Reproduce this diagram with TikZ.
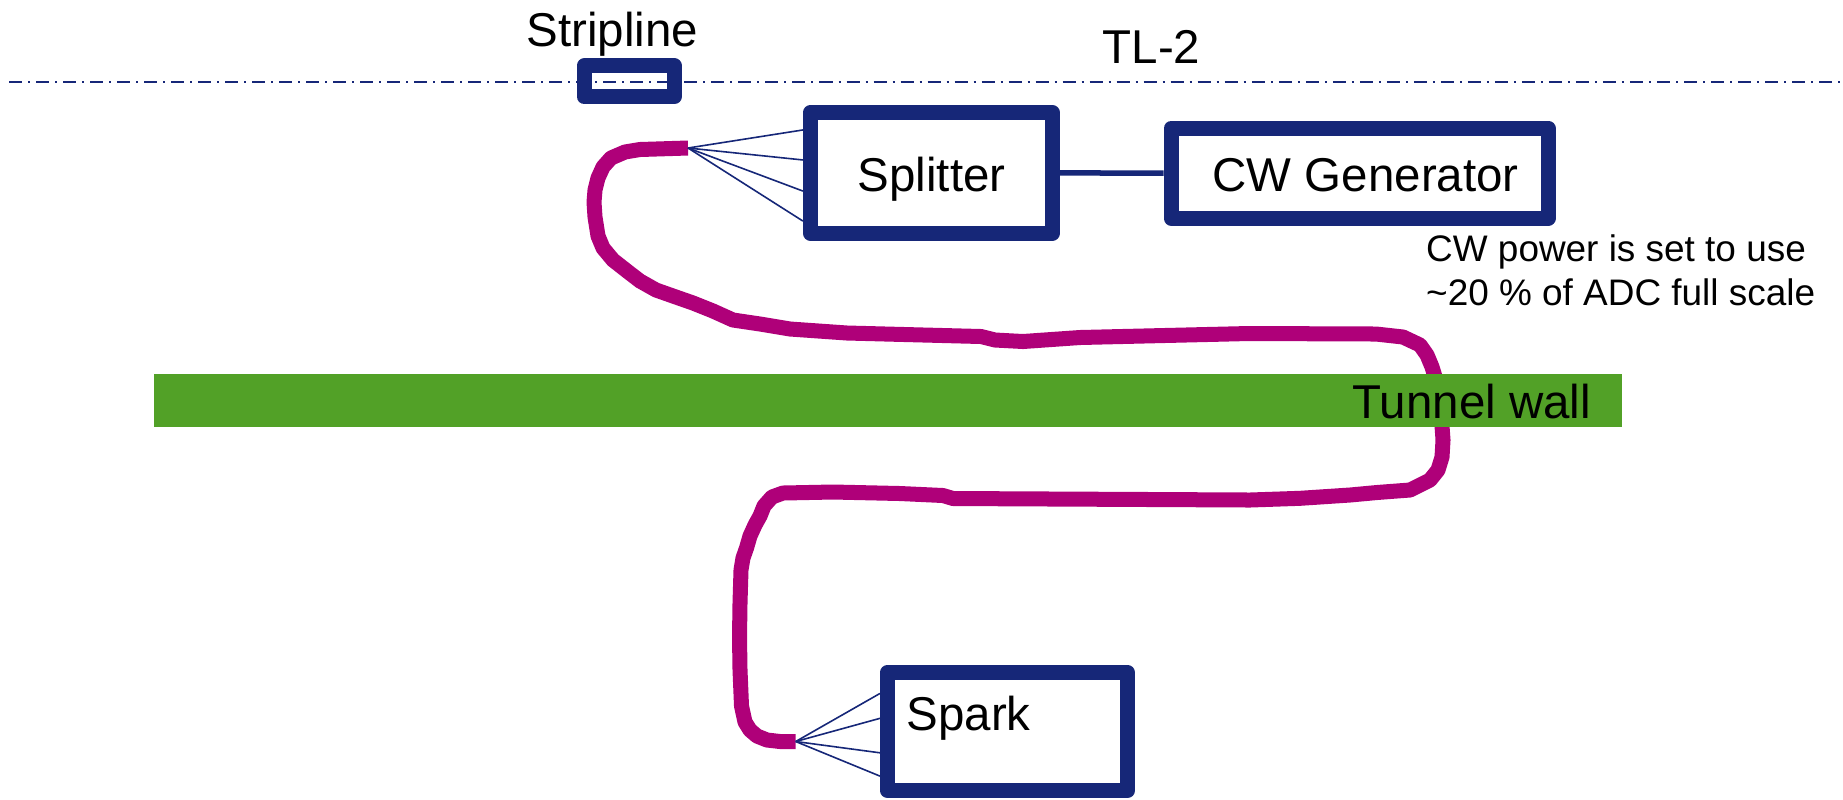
\documentclass[tikz,border=0pt]{standalone}
\usepackage{fontspec}
\setmainfont{Liberation Sans}
\usetikzlibrary{calc}
\definecolor{boxblue}{RGB}{22,39,120}
\definecolor{cablepink}{RGB}{175,0,121}
\definecolor{wallgreen}{RGB}{82,161,39}
\begin{document}
\begin{tikzpicture}[x=0.01cm,y=-0.01cm,
  unitbox/.style={draw=boxblue, line width=0.15cm, fill=white, line join=round, inner sep=0pt},
  bigtext/.style={font=\fontsize{13.5}{16}\selectfont, inner sep=0pt, text=black},
  notetext/.style={font=\fontsize{10.5}{12.6}\selectfont, inner sep=0pt, text=black},
  beamline/.style={draw=boxblue, line width=0.02cm, dash pattern=on 0.13cm off 0.06cm on 0.02cm off 0.06cm},
  fanline/.style={draw=boxblue, line width=0.016cm},
  linkline/.style={draw=boxblue, line width=0.055cm},
  cable/.style={draw=cablepink, line width=0.15cm, line join=round, line cap=butt}]
\useasboundingbox (0,0) rectangle (1843,799);

% cable ends
\coordinate (cabletop) at (688,148);
\coordinate (cablebottom) at (795.7,741.5);

% coaxial cable, running behind the tunnel wall
\draw[cable] (cabletop) -- (640,149.5) -- (625,152) -- (611,158) -- (603,167) -- (598,178)
  -- (595,190) -- (594,202) -- (595,217) -- (598,236) -- (603,248) -- (613,260)
  -- (627,271) -- (640,281) -- (656,290) -- (673,296) -- (693,303) -- (713,311)
  -- (733,320) -- (760,324) -- (790,329) -- (847,333) -- (981,336.5) -- (995,340)
  -- (1023,341.5) -- (1080,337.5) -- (1249,333.5) -- (1376,334) -- (1403,337)
  -- (1420,345) -- (1427,355) -- (1432,367) -- (1436,380) -- (1440,400)
  -- (1442,426) -- (1443,440) -- (1442,457) -- (1438,470) -- (1430,480)
  -- (1417,486.5) -- (1410,490) -- (1390,491.5) -- (1377,492.5) -- (1350,495)
  -- (1300,498.3) -- (1250,500) -- (953,498.5) -- (943,495.5) -- (900,493.5)
  -- (833,492) -- (783,493) -- (772,497) -- (764,506) -- (760,516) -- (755,525)
  -- (750,536) -- (746.5,548) -- (743,558) -- (741,570) -- (740,603)
  -- (739.5,637) -- (740,670) -- (741.5,706) -- (745,722) -- (750,730)
  -- (757,736) -- (767,740) -- (780,741.5) -- (cablebottom);

% tunnel wall
\node[fill=wallgreen, inner sep=0pt, minimum width=14.672cm, minimum height=0.535cm,
  anchor=north west] (wall) at (152.8,373) {};
\node[bigtext, anchor=base west] (walltext) at (1352,418.3) {Tunnel wall};

% boxes
\node[unitbox, minimum width=0.90cm, minimum height=0.31cm] (stripline) at (629.2,81.3) {};
\node[unitbox, minimum width=2.416cm, minimum height=1.207cm] (splitter) at (931.3,172.85) {};
\node[unitbox, minimum width=3.768cm, minimum height=0.90cm] (cwgen) at (1359.6,173.2) {};
\node[unitbox, minimum width=2.40cm, minimum height=1.18cm] (spark) at (1007.5,731.5) {};

% splitter to generator
\draw[linkline] (splitter.east) -- (cwgen.east -| cwgen.west);

% cable fan-out into the splitter and the spark box
\foreach \f in {0.184,0.405,0.634,0.855}
  \draw[fanline] (cabletop) -- ($(splitter.north west)!\f!(splitter.south west)$);
\foreach \f in {0.214,0.401,0.66,0.835}
  \draw[fanline] (cablebottom) -- ($(spark.north west)!\f!(spark.south west)$);

% beam line
\coordinate (beamstart) at (9,81.7);
\coordinate (beamend) at (1840,81.7);
\draw[beamline] (beamstart) -- (beamend);

% labels
\node[bigtext, anchor=base] (striptext) at (612.5,46.7) {Stripline};
\node[bigtext, anchor=base] (tltext) at (1151.5,63) {TL-2};
\node[bigtext, anchor=base] (splittertext) at (931.6,191.7) {Splitter};
\node[bigtext, anchor=base] (cwgentext) at (1365.7,191.7) {CW Generator};
\node[bigtext, anchor=base west] (sparktext) at (906,730) {Spark};
\node[notetext, anchor=base west] (noteone) at (1425.5,261.7) {CW power is set to use};
\node[notetext, anchor=base west] (notetwo) at (1425.5,305) {\textasciitilde20 \% of ADC full scale};
\end{tikzpicture}
\end{document}
